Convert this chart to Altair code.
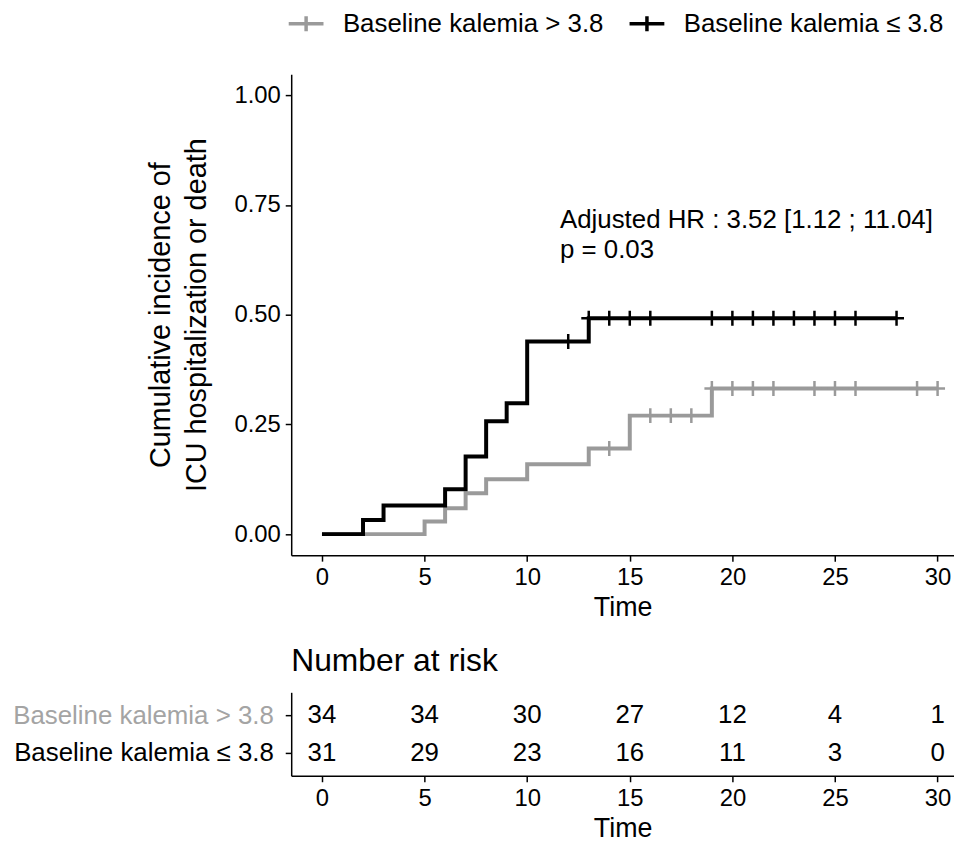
import altair as alt
import pandas as pd

FONT = "Liberation Sans"
GRAY_LABEL = "Baseline kalemia > 3.8"
BLACK_LABEL = "Baseline kalemia ≤ 3.8"
groups = [GRAY_LABEL, BLACK_LABEL]
colors = ["#9a9a9a", "#000000"]

# cumulative incidence step curves
gray_time = [0, 5, 6, 7, 8, 10, 13, 15, 19, 30]
gray_ci = [0, 0.029, 0.059, 0.093, 0.125, 0.159, 0.195, 0.270, 0.332, 0.332]
black_time = [0, 2, 3, 6, 7, 8, 9, 10, 13, 28]
black_ci = [0, 0.032, 0.065, 0.102, 0.177, 0.257, 0.298, 0.439, 0.492, 0.492]

# censoring marks
gray_cens_time = [14, 16, 17, 18, 19, 20, 21, 22, 24, 25, 26, 29, 30]
gray_cens_ci = [0.195, 0.270, 0.270, 0.270, 0.332, 0.332, 0.332, 0.332, 0.332, 0.332, 0.332, 0.332, 0.332]
black_cens_time = [12, 13, 14, 15, 16, 19, 20, 21, 22, 23, 24, 25, 26, 28]
black_cens_ci = [0.439] + [0.492] * 13

# number at risk
risk_time = [0, 5, 10, 15, 20, 25, 30]
gray_risk = [34, 34, 30, 27, 12, 4, 1]
black_risk = [31, 29, 23, 16, 11, 3, 0]

annot_text = ["Adjusted HR : 3.52 [1.12 ; 11.04]", "p = 0.03"]
annot_x = [11.6, 11.6]
annot_y = [0.716, 0.648]

curve_df = pd.concat([
    pd.DataFrame({"time": gray_time, "ci": gray_ci, "group": GRAY_LABEL}),
    pd.DataFrame({"time": black_time, "ci": black_ci, "group": BLACK_LABEL}),
])
cens_df = pd.concat([
    pd.DataFrame({"time": gray_cens_time, "ci": gray_cens_ci, "group": GRAY_LABEL}),
    pd.DataFrame({"time": black_cens_time, "ci": black_cens_ci, "group": BLACK_LABEL}),
])
risk_df = pd.concat([
    pd.DataFrame({"time": risk_time, "n": gray_risk, "group": GRAY_LABEL}),
    pd.DataFrame({"time": risk_time, "n": black_risk, "group": BLACK_LABEL}),
])
annot_df = pd.DataFrame({"x": annot_x, "y": annot_y, "label": annot_text})

XDOM = [-1.5, 30.8]
W = 667
cross = "M-1,0H1M0,-1V1"
# legend key: 35px wide line with a 15px vertical tick, drawn in a 20px symbol box
legend_cross = "M-1.75,0H1.75M0,-0.75V0.75"

color_scale = alt.Scale(domain=groups, range=colors)

x_main = alt.X("time:Q", scale=alt.Scale(domain=XDOM, nice=False, zero=False),
               axis=alt.Axis(values=list(range(0, 31, 5)), title="Time"))
y_main = alt.Y("ci:Q", scale=alt.Scale(domain=[-0.048, 1.048], nice=False, zero=False),
               axis=alt.Axis(values=[0, 0.25, 0.5, 0.75, 1.0], format=".2f",
                             title=["Cumulative incidence of", "ICU hospitalization or death"],
                             titleFontSize=29, titlePadding=23, titleLineHeight=36))

color_enc = alt.Color("group:N", scale=color_scale, sort=groups,
                      legend=alt.Legend(title=None, orient="none", direction="horizontal",
                                        legendX=2, legendY=-64,
                                        symbolType=legend_cross, symbolSize=400,
                                        symbolStrokeWidth=3.5, labelFontSize=26, labelLimit=0,
                                        labelFont=FONT, labelOffset=24, columnPadding=18,
                                        labelColor="black"))

lines = []
points = []
for g in groups:
    lines.append(alt.Chart(curve_df).transform_filter(alt.datum.group == g)
                 .mark_line(interpolate="step-after", strokeWidth=4)
                 .encode(x=x_main, y=y_main, color=color_enc))
    points.append(alt.Chart(cens_df).transform_filter(alt.datum.group == g)
                  .mark_point(shape=cross, size=225, strokeWidth=2.5, filled=False, opacity=1)
                  .encode(x=x_main, y=y_main, color=color_enc))

annot = alt.Chart(annot_df).mark_text(align="left", baseline="middle", fontSize=26,
                                      font=FONT, color="black").encode(
    x="x:Q", y="y:Q", text="label:N")

main = alt.layer(lines[0], points[0], lines[1], points[1], annot).properties(width=W, height=484)

risk = alt.Chart(risk_df).mark_text(fontSize=26, font=FONT, color="black").encode(
    x=alt.X("time:Q", scale=alt.Scale(domain=XDOM, nice=False, zero=False),
            axis=alt.Axis(values=list(range(0, 31, 5)), title="Time")),
    y=alt.Y("group:N", sort=groups, scale=alt.Scale(type="point", padding=0.6),
            axis=alt.Axis(title=None, labelFontSize=26, labelLimit=0, labelPadding=12,
                          labelColor=alt.ExprRef("datum.value == '" + GRAY_LABEL + "' ? '#a4a4a4' : 'black'"))),
    text="n:Q",
).properties(width=W, height=84,
             title=alt.TitleParams("Number at risk", anchor="start", fontSize=32, font=FONT,
                                   fontWeight="normal", color="black", offset=14, frame="group"))

chart = alt.vconcat(main, risk, spacing=25).resolve_scale(color="shared").properties(
    padding={"left": 4, "top": 0, "right": 0, "bottom": 0}
).configure_view(stroke=None).configure_axis(
    grid=False, domainColor="black", domainWidth=1.5, tickColor="black", tickWidth=1.5,
    tickSize=6, labelColor="black", labelFont=FONT, labelFontSize=24, labelPadding=5,
    titleFont=FONT, titleFontSize=27, titleFontWeight="normal", titleColor="black",
    titlePadding=5
).configure_legend(labelFont=FONT)

chart.save("out.html", embed_options={"renderer": "svg", "actions": False})
